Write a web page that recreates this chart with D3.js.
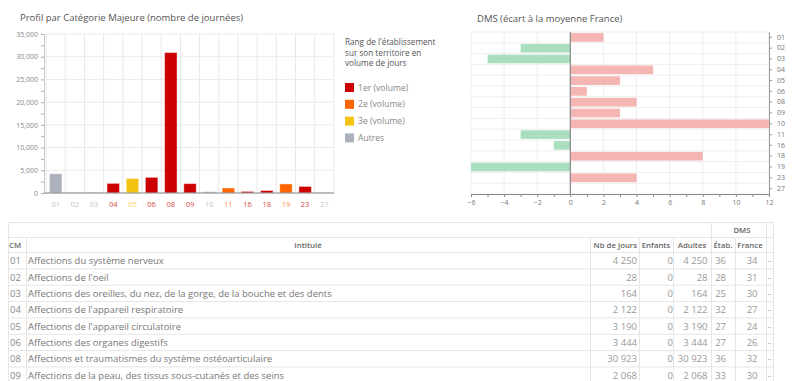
<!DOCTYPE html>
<html><head><meta charset="utf-8">
<script src="https://cdnjs.cloudflare.com/ajax/libs/d3/7.8.5/d3.min.js"></script>
<style>
body{margin:0;background:#fff;font-family:"Open Sans",sans-serif;}
svg{display:block;}
</style></head><body>
<svg id="c" width="800" height="381"></svg>
<script>
// ---- data ----
const categories = ["01","02","03","04","05","06","08","09","10","11","16","18","19","23","27"];
const nbJours = [4250, 28, 164, 2122, 3190, 3444, 30923, 2068, 300, 1100, 350, 550, 2000, 1450, 80];
const rang = ["Autres","Autres","Autres","1er","3e","1er","1er","1er","Autres","2e","1er","1er","2e","1er","Autres"];
const dmsEcart = [2, -3, -5, 5, 3, 1, 4, 3, 12, -3, -1, 8, -6, 4, 0];
const legendLabels = ["1er (volume)","2e (volume)","3e (volume)","Autres"];
const legendKeys = ["1er","2e","3e","Autres"];
const yTicks = [0,5000,10000,15000,20000,25000,30000,35000];
const xTicksDms = [-6,-4,-2,0,2,4,6,8,10,12];

const tableCM = ["01","02","03","04","05","06","08","09"];
const tableIntitule = [
 "Affections du système nerveux",
 "Affections de l'oeil",
 "Affections des oreilles, du nez, de la gorge, de la bouche et des dents",
 "Affections de l'appareil respiratoire",
 "Affections de l'appareil circulatoire",
 "Affections des organes digestifs",
 "Affections et traumatismes du système ostéoarticulaire",
 "Affections de la peau, des tissus sous-cutanés et des seins"];
const tableJours = [4250, 28, 164, 2122, 3190, 3444, 30923, 2068];
const tableEnfants = [0,0,0,0,0,0,0,0];
const tableAdultes = [4250, 28, 164, 2122, 3190, 3444, 30923, 2068];
const tableEtab = [36, 28, 25, 32, 27, 27, 36, 33];
const tableFrance = [34, 31, 30, 27, 24, 26, 32, 30];
const tableHeaders = ["CM","Intitulé","Nb de jours","Enfants","Adultes","Étab.","France",""];

const rankColor = {"1er":"#cc0000","2e":"#ff6600","3e":"#f2c40f","Autres":"#aab1bb"};

const svg = d3.select("#c");
const font = '"Open Sans",sans-serif';

// ---- left chart ----
svg.append("text").attr("x",20).attr("y",21).attr("font-size",9.5).attr("fill","#555")
  .attr("font-family",font).text("Profil par Catégorie Majeure (nombre de journées)");

const x = d3.scaleBand().domain(categories).range([46,334]).paddingInner(0.35).paddingOuter(0.18);
const y = d3.scaleLinear().domain([0,35000]).range([193,34]);
const gL = svg.append("g");
const step = x.step();
const gap = (step - x.bandwidth())/2;
const bounds = categories.map(d=>x(d)-gap).concat([x(categories[categories.length-1])+x.bandwidth()+gap]);
gL.selectAll(".hg").data(yTicks).join("line")
  .attr("x1",45).attr("x2",334).attr("y1",d=>y(d)).attr("y2",d=>y(d)).attr("stroke","#ebebeb");
gL.selectAll(".vg").data(bounds).join("line")
  .attr("x1",d=>d).attr("x2",d=>d)
  .attr("y1",y(35000)).attr("y2",y(0)).attr("stroke","#e8e8e8");
gL.selectAll(".bar").data(categories).join("rect")
  .attr("x",d=>x(d)).attr("width",x.bandwidth())
  .attr("y",(d,i)=>y(nbJours[i])).attr("height",(d,i)=>y(0)-y(nbJours[i]))
  .attr("fill",(d,i)=>rankColor[rang[i]])
  .attr("stroke","rgba(255,255,255,0.45)").attr("stroke-width",1);
const yAxis = d3.axisLeft(y).tickValues(d3.range(0,35001,2500)).tickSize(3)
  .tickFormat(d=> d%5000===0 ? d3.format(",")(d) : "");
const ya = gL.append("g").attr("transform","translate(44,0)").call(yAxis);
ya.select(".domain").attr("stroke","#ccc");
ya.selectAll(".tick line").attr("stroke","#aaa");
ya.selectAll("text").attr("font-size",7).attr("fill","#888").attr("font-family",font);
gL.append("line").attr("x1",44).attr("x2",334).attr("y1",y(0)).attr("y2",y(0)).attr("stroke","#888");
gL.selectAll(".xl").data(categories).join("text")
  .attr("x",d=>x(d)+x.bandwidth()/2).attr("y",207).attr("text-anchor","middle")
  .attr("font-size",7.5).attr("font-family",font)
  .attr("fill",(d,i)=>rankColor[rang[i]]).attr("opacity",0.75).text(d=>d);

// legend
const lg = svg.append("g").attr("font-family",font);
["Rang de l'établissement","sur son territoire en","volume de jours"].forEach((t,i)=>{
  lg.append("text").attr("x",345).attr("y",45+i*10.7).attr("font-size",8.2)
    .attr("fill","#555").text(t);
});
legendKeys.forEach((k,i)=>{
  lg.append("rect").attr("x",345).attr("y",83+i*16.8).attr("width",9).attr("height",9).attr("fill",rankColor[k]);
  lg.append("text").attr("x",358).attr("y",90.5+i*16.8).attr("font-size",8.6).attr("fill","#888").text(legendLabels[i]);
});

// ---- right chart ----
svg.append("text").attr("x",477).attr("y",22).attr("font-size",9.5).attr("fill","#555")
  .attr("font-family",font).text("DMS (écart à la moyenne France)");
const xr = d3.scaleLinear().domain([-6,12]).range([471,769]);
const yr = d3.scaleBand().domain(categories).range([32,194]).paddingInner(0.2).paddingOuter(0.1);
const gR = svg.append("g");
gR.selectAll(".vg").data(xTicksDms).join("line")
  .attr("x1",d=>xr(d)).attr("x2",d=>xr(d)).attr("y1",32).attr("y2",194).attr("stroke","#eeeeee");
const stepR = (194-32)/categories.length;
gR.selectAll(".hg").data(d3.range(categories.length+1)).join("line")
  .attr("x1",471).attr("x2",769).attr("y1",i=>32+i*stepR).attr("y2",i=>32+i*stepR).attr("stroke","#eeeeee");
gR.selectAll(".bar").data(categories).join("rect")
  .attr("x",(d,i)=>xr(Math.min(0,dmsEcart[i]))).attr("width",(d,i)=>Math.abs(xr(dmsEcart[i])-xr(0)))
  .attr("y",d=>yr(d)).attr("height",yr.bandwidth())
  .attr("fill",(d,i)=>dmsEcart[i]>=0?"#f5b5b3":"#a9dfbf");
gR.append("line").attr("x1",xr(0)).attr("x2",xr(0)).attr("y1",32).attr("y2",194).attr("stroke","#888").attr("stroke-width",1.2);
const xa = gR.append("g").attr("transform","translate(0,194)")
  .call(d3.axisBottom(xr).tickValues(d3.range(-6,13,1)).tickSize(3).tickFormat(d=>d%2===0? d3.format("")(d).replace("-","−"):""));
xa.select(".domain").attr("stroke","#888");
xa.selectAll(".tick line").attr("stroke","#888");
xa.selectAll("text").attr("font-size",7).attr("fill","#777").attr("font-family",font);
const ra = gR.append("g").attr("transform","translate(769,0)")
  .call(d3.axisRight(yr).tickSize(3).tickSizeOuter(0));
ra.select(".domain").attr("stroke","#999");
ra.selectAll(".tick line").attr("stroke","#999");
ra.selectAll("text").attr("font-size",7).attr("fill","#777").attr("font-family",font).attr("x",8);

// ---- table ----
const colEdges = [8,26,590,639,673,711,735,766,773];
const fmt = d3.formatLocale({thousands:"\u00A0",decimal:",",grouping:[3],currency:["","€"]}).format(",");
const gT = svg.append("g").attr("font-family",font);
const h1 = 222.5, h2 = 237.5, b0 = 252.5, rh = 16.35;
const nRows = tableCM.length;
const yEnd = b0 + nRows*rh;
const hLines = [h1,h2,b0].concat(d3.range(1,nRows+1).map(i=>b0+i*rh));
gT.selectAll(".hl").data(hLines).join("line")
  .attr("x1",8).attr("x2",773).attr("y1",d=>d).attr("y2",d=>d).attr("stroke","#e6e6e6");
[8,711,766,773].forEach(xv=>gT.append("line").attr("x1",xv+0.5).attr("x2",xv+0.5).attr("y1",h1).attr("y2",h2).attr("stroke","#e6e6e6"));
colEdges.forEach(xv=>gT.append("line").attr("x1",xv+0.5).attr("x2",xv+0.5).attr("y1",h2).attr("y2",yEnd).attr("stroke","#e6e6e6"));
gT.append("text").attr("x",742).attr("y",h1+10.5).attr("text-anchor","middle").attr("font-size",7.8)
  .attr("font-weight",600).attr("fill","#666").text("DMS");
const hdrX = [9, 308, 637, 656, 692, 723, 750];
const hdrAnchor = ["start","middle","end","middle","middle","middle","middle"];
tableHeaders.slice(0,7).forEach((t,i)=>{
  gT.append("text").attr("x",hdrX[i]).attr("y",h2+10.5).attr("text-anchor",hdrAnchor[i])
    .attr("font-size",7.8).attr("font-weight",600).attr("fill","#666").text(t);
});
tableCM.forEach((cm,r)=>{
  const ty = b0 + r*rh + 11.8;
  const row = gT.append("g").attr("font-size",9.5);
  row.append("text").attr("x",10).attr("y",ty).attr("fill","#888").text(cm);
  row.append("text").attr("x",28).attr("y",ty).attr("fill","#777").text(tableIntitule[r]);
  const vals = [fmt(tableJours[r]), String(tableEnfants[r]), fmt(tableAdultes[r]), String(tableEtab[r]), String(tableFrance[r]), "-"];
  const xs = [637, 673, 707.5, 726, 757.5, 769.5];
  vals.forEach((v,j)=>{
    row.append("text").attr("x",xs[j]).attr("y",ty).attr("text-anchor", j===5?"middle":"end")
      .attr("fill","#999").text(v);
  });
});
</script>
</body></html>
